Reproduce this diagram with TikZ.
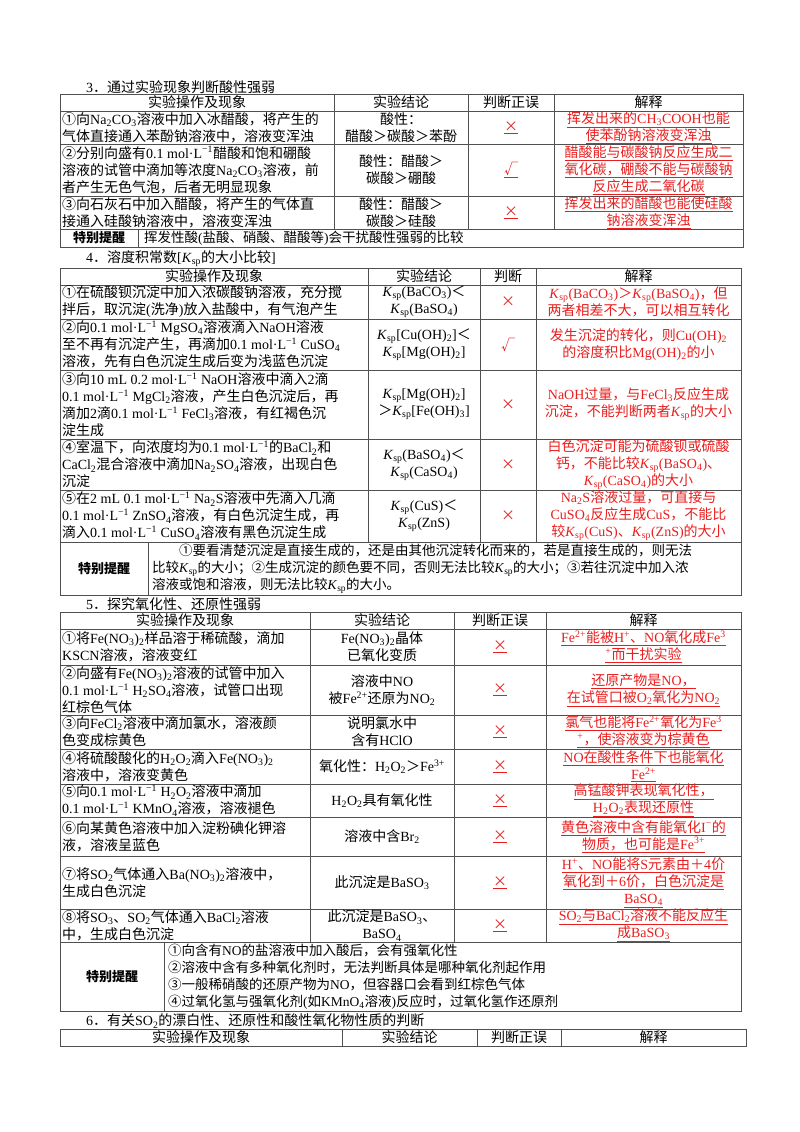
\documentclass[tikz,border=0pt]{standalone}
\usepackage{fontspec}
\setmainfont{Liberation Serif}
\newfontfamily\cjk{Noto Sans CJK SC}
\newcommand\latinfont{\rmfamily}
\newcount\mycnt
\newXeTeXintercharclass\mycjk
\mycnt="4E00 \loop \XeTeXcharclass\mycnt=\mycjk \ifnum\mycnt<"9FFF \advance\mycnt 1 \repeat
\mycnt="3000 \loop \XeTeXcharclass\mycnt=\mycjk \ifnum\mycnt<"303F \advance\mycnt 1 \repeat
\mycnt="FF00 \loop \XeTeXcharclass\mycnt=\mycjk \ifnum\mycnt<"FFEF \advance\mycnt 1 \repeat
\mycnt="2460 \loop \XeTeXcharclass\mycnt=\mycjk \ifnum\mycnt<"2473 \advance\mycnt 1 \repeat
\XeTeXcharclass"00D7=\mycjk
\XeTeXcharclass"221A=\mycjk
\XeTeXinterchartoks 0 \mycjk = {\cjk}
\XeTeXinterchartoks 4095 \mycjk = {\cjk}
\XeTeXinterchartoks \mycjk 0 = {\latinfont}
\XeTeXinterchartoks 4095 0 = {\latinfont}
\XeTeXinterchartokenstate=1
\definecolor{ered}{RGB}{232,30,30}
\definecolor{gridc}{RGB}{80,80,80}
\newcommand\dn[1]{\textsubscript{#1}}
\newcommand\up[1]{\textsuperscript{#1}}
\newcommand\Ksp{\textit{K}\dn{sp}}
\newcommand\mol{mol·L\up{−1}}
\newcommand\ul[1]{\underline{#1}}
\tikzset{
  lt/.style={anchor=west,align=left,inner sep=0pt,font=\fontsize{14}{17}\selectfont},
  ct/.style={align=center,inner sep=0pt,font=\fontsize{14}{17}\selectfont},
  rd/.style={ct,text=ered},
  hd/.style={ct},
  ttl/.style={anchor=west,inner sep=0pt,font=\fontsize{14}{17}\selectfont},
  tipl/.style={ct,font=\fontsize{13}{17}\selectfont\bfseries},
  tipt/.style={lt,font=\fontsize{13.5}{17}\selectfont},
  grid/.style={draw=gridc,line width=0.9pt}
}
\begin{document}
\begin{tikzpicture}[x=1pt,y=-1pt]
\useasboundingbox (0,0) rectangle (800,1132);
% ================= Section 3
\node[ttl] (t3) at (86,87) {3．通过实验现象判断酸性强弱};
\draw[grid] (60,94) rectangle (743,247);
\foreach \yy in {111,144,196,229} \draw[grid] (60,\yy) -- (743,\yy);
\foreach \xx in {334,468,554} \draw[grid] (\xx,94) -- (\xx,229);
\draw[grid] (138,229) -- (138,247);
\node[hd] (h3a) at (197,102.5) {实验操作及现象};
\node[hd] (h3b) at (401,102.5) {实验结论};
\node[hd] (h3c) at (511,102.5) {判断正误};
\node[hd] (h3d) at (648.5,102.5) {解释};
\node[lt] (a31) at (62,127.5) {①向Na\dn{2}CO\dn{3}溶液中加入冰醋酸，将产生的\\气体直接通入苯酚钠溶液中，溶液变浑浊};
\node[ct] (b31) at (401,127.5) {酸性：\\醋酸＞碳酸＞苯酚};
\node[rd] (c31) at (511,127.5) {\ul{×}};
\node[rd] (d31) at (648.5,127.5) {\ul{挥发出来的CH\dn{3}COOH也能}\\\ul{使苯酚钠溶液变浑浊}};
\node[lt] (a32) at (62,170) {②分别向盛有0.1 \mol 醋酸和饱和硼酸\\溶液的试管中滴加等浓度Na\dn{2}CO\dn{3}溶液，前\\者产生无色气泡，后者无明显现象};
\node[ct] (b32) at (401,170) {酸性：醋酸＞\\碳酸＞硼酸};
\node[rd] (c32) at (511,170) {\ul{√}};
\node[rd] (d32) at (648.5,170) {\ul{醋酸能与碳酸钠反应生成二}\\\ul{氧化碳，硼酸不能与碳酸钠}\\\ul{反应生成二氧化碳}};
\node[lt] (a33) at (62,212.5) {③向石灰石中加入醋酸，将产生的气体直\\接通入硅酸钠溶液中，溶液变浑浊};
\node[ct] (b33) at (401,212.5) {酸性：醋酸＞\\碳酸＞硅酸};
\node[rd] (c33) at (511,212.5) {\ul{×}};
\node[rd] (d33) at (648.5,212.5) {\ul{挥发出来的醋酸也能使硅酸}\\\ul{钠溶液变浑浊}};
\node[tipl] (p3) at (99,238) {特别提醒};
\node[tipt] (q3) at (144,238) {挥发性酸(盐酸、硝酸、醋酸等)会干扰酸性强弱的比较};
% ================= Section 4
\node[ttl] (t4) at (86,259) {4．溶度积常数[\Ksp 的大小比较]};
\draw[grid] (60,268) rectangle (741,595);
\foreach \yy in {285,319,370,439,490,542} \draw[grid] (60,\yy) -- (741,\yy);
\foreach \xx in {368,480,536} \draw[grid] (\xx,268) -- (\xx,542);
\draw[grid] (148,542) -- (148,595);
\node[hd] (h4a) at (214,276.5) {实验操作及现象};
\node[hd] (h4b) at (424,276.5) {实验结论};
\node[hd] (h4c) at (508,276.5) {判断};
\node[hd] (h4d) at (638.5,276.5) {解释};
\node[lt] (a41) at (62,302) {①在硫酸钡沉淀中加入浓碳酸钠溶液，充分搅\\拌后，取沉淀(洗净)放入盐酸中，有气泡产生};
\node[ct] (b41) at (424,302) {\Ksp(BaCO\dn{3})＜\\\Ksp(BaSO\dn{4})};
\node[rd] (c41) at (508,302) {×};
\node[rd] (d41) at (638.5,302) {\Ksp(BaCO\dn{3})＞\Ksp(BaSO\dn{4})，但\\两者相差不大，可以相互转化};
\node[lt] (a42) at (62,344.5) {②向0.1 \mol\ MgSO\dn{4}溶液滴入NaOH溶液\\至不再有沉淀产生，再滴加0.1 \mol\ CuSO\dn{4}\\溶液，先有白色沉淀生成后变为浅蓝色沉淀};
\node[ct] (b42) at (424,344.5) {\Ksp[Cu(OH)\dn{2}]＜\\\Ksp[Mg(OH)\dn{2}]};
\node[rd] (c42) at (508,344.5) {√};
\node[rd] (d42) at (638.5,344.5) {发生沉淀的转化，则Cu(OH)\dn{2}\\的溶度积比Mg(OH)\dn{2}的小};
\node[lt] (a43) at (62,404.5) {③向10 mL 0.2 \mol\ NaOH溶液中滴入2滴\\0.1 \mol\ MgCl\dn{2}溶液，产生白色沉淀后，再\\滴加2滴0.1 \mol\ FeCl\dn{3}溶液，有红褐色沉\\淀生成};
\node[ct] (b43) at (424,404.5) {\Ksp[Mg(OH)\dn{2}]\\＞\Ksp[Fe(OH)\dn{3}]};
\node[rd] (c43) at (508,404.5) {×};
\node[rd] (d43) at (638.5,404.5) {NaOH过量，与FeCl\dn{3}反应生成\\沉淀，不能判断两者\Ksp 的大小};
\node[lt] (a44) at (62,464.5) {④室温下，向浓度均为0.1 \mol 的BaCl\dn{2}和\\CaCl\dn{2}混合溶液中滴加Na\dn{2}SO\dn{4}溶液，出现白色\\沉淀};
\node[ct] (b44) at (424,464.5) {\Ksp(BaSO\dn{4})＜\\\Ksp(CaSO\dn{4})};
\node[rd] (c44) at (508,464.5) {×};
\node[rd] (d44) at (638.5,464.5) {白色沉淀可能为硫酸钡或硫酸\\钙，不能比较\Ksp(BaSO\dn{4})、\\\Ksp(CaSO\dn{4})的大小};
\node[lt] (a45) at (62,516) {⑤在2 mL 0.1 \mol\ Na\dn{2}S溶液中先滴入几滴\\0.1 \mol\ ZnSO\dn{4}溶液，有白色沉淀生成，再\\滴入0.1 \mol\ CuSO\dn{4}溶液有黑色沉淀生成};
\node[ct] (b45) at (424,516) {\Ksp(CuS)＜\\\Ksp(ZnS)};
\node[rd] (c45) at (508,516) {×};
\node[rd] (d45) at (638.5,516) {Na\dn{2}S溶液过量，可直接与\\CuSO\dn{4}反应生成CuS，不能比\\较\Ksp(CuS)、\Ksp(ZnS)的大小};
\node[tipl] (p4) at (104,568.5) {特别提醒};
\node[tipt] (q4) at (152,568.5) {\hspace{2em}①要看清楚沉淀是直接生成的，还是由其他沉淀转化而来的，若是直接生成的，则无法\\比较\Ksp 的大小；②生成沉淀的颜色要不同，否则无法比较\Ksp 的大小；③若往沉淀中加入浓\\溶液或饱和溶液，则无法比较\Ksp 的大小。};
% ================= Section 5
\node[ttl] (t5) at (86,604) {5．探究氧化性、还原性强弱};
\draw[grid] (60,612) rectangle (741,1011);
\foreach \yy in {629,665,715,749,784,817,856,909,942} \draw[grid] (60,\yy) -- (741,\yy);
\foreach \xx in {310,454,546} \draw[grid] (\xx,612) -- (\xx,942);
\draw[grid] (164,942) -- (164,1011);
\node[hd] (h5a) at (185,620.5) {实验操作及现象};
\node[hd] (h5b) at (382,620.5) {实验结论};
\node[hd] (h5c) at (500,620.5) {判断正误};
\node[hd] (h5d) at (643.5,620.5) {解释};
\node[lt] (a51) at (62,647) {①将Fe(NO\dn{3})\dn{2}样品溶于稀硫酸，滴加\\KSCN溶液，溶液变红};
\node[ct] (b51) at (382,647) {Fe(NO\dn{3})\dn{2}晶体\\已氧化变质};
\node[rd] (c51) at (500,647) {\ul{×}};
\node[rd] (d51) at (643.5,647) {\ul{Fe\up{2+}能被H\up{+}、NO氧化成Fe\up{3}}\\\ul{\up{+}而干扰实验}};
\node[lt] (a52) at (62,690) {②向盛有Fe(NO\dn{3})\dn{2}溶液的试管中加入\\0.1 \mol\ H\dn{2}SO\dn{4}溶液，试管口出现\\红棕色气体};
\node[ct] (b52) at (382,690) {溶液中NO\\被Fe\up{2+}还原为NO\dn{2}};
\node[rd] (c52) at (500,690) {\ul{×}};
\node[rd] (d52) at (643.5,690) {\ul{还原产物是NO，}\\\ul{在试管口被O\dn{2}氧化为NO\dn{2}}};
\node[lt] (a53) at (62,732) {③向FeCl\dn{2}溶液中滴加氯水，溶液颜\\色变成棕黄色};
\node[ct] (b53) at (382,732) {说明氯水中\\含有HClO};
\node[rd] (c53) at (500,732) {\ul{×}};
\node[rd] (d53) at (643.5,732) {\ul{氯气也能将Fe\up{2+}氧化为Fe\up{3}}\\\ul{\up{+}，使溶液变为棕黄色}};
\node[lt] (a54) at (62,766.5) {④将硫酸酸化的H\dn{2}O\dn{2}滴入Fe(NO\dn{3})\dn{2}\\溶液中，溶液变黄色};
\node[ct] (b54) at (382,766.5) {氧化性：H\dn{2}O\dn{2}＞Fe\up{3+}};
\node[rd] (c54) at (500,766.5) {\ul{×}};
\node[rd] (d54) at (643.5,766.5) {\ul{NO在酸性条件下也能氧化}\\\ul{Fe\up{2+}}};
\node[lt] (a55) at (62,800.5) {⑤向0.1 \mol\ H\dn{2}O\dn{2}溶液中滴加\\0.1 \mol\ KMnO\dn{4}溶液，溶液褪色};
\node[ct] (b55) at (382,800.5) {H\dn{2}O\dn{2}具有氧化性};
\node[rd] (c55) at (500,800.5) {\ul{×}};
\node[rd] (d55) at (643.5,800.5) {\ul{高锰酸钾表现氧化性，}\\\ul{H\dn{2}O\dn{2}表现还原性}};
\node[lt] (a56) at (62,836.5) {⑥向某黄色溶液中加入淀粉碘化钾溶\\液，溶液呈蓝色};
\node[ct] (b56) at (382,836.5) {溶液中含Br\dn{2}};
\node[rd] (c56) at (500,836.5) {\ul{×}};
\node[rd] (d56) at (643.5,836.5) {\ul{黄色溶液中含有能氧化I\up{−}的}\\\ul{物质，也可能是Fe\up{3+}}};
\node[lt] (a57) at (62,882.5) {⑦将SO\dn{2}气体通入Ba(NO\dn{3})\dn{2}溶液中，\\生成白色沉淀};
\node[ct] (b57) at (382,882.5) {此沉淀是BaSO\dn{3}};
\node[rd] (c57) at (500,882.5) {\ul{×}};
\node[rd] (d57) at (643.5,882.5) {\ul{H\up{+}、NO能将S元素由＋4价}\\\ul{氧化到＋6价，白色沉淀是}\\\ul{BaSO\dn{4}}};
\node[lt] (a58) at (62,925.5) {⑧将SO\dn{3}、SO\dn{2}气体通入BaCl\dn{2}溶液\\中，生成白色沉淀};
\node[ct] (b58) at (382,925.5) {此沉淀是BaSO\dn{3}、\\BaSO\dn{4}};
\node[rd] (c58) at (500,925.5) {\ul{×}};
\node[rd] (d58) at (643.5,925.5) {\ul{SO\dn{2}与BaCl\dn{2}溶液不能反应生}\\\ul{成BaSO\dn{3}}};
\node[tipl] (p5) at (112,976.5) {特别提醒};
\node[tipt] (q5) at (168,976.5) {①向含有NO的盐溶液中加入酸后，会有强氧化性\\②溶液中含有多种氧化剂时，无法判断具体是哪种氧化剂起作用\\③一般稀硝酸的还原产物为NO，但容器口会看到红棕色气体\\④过氧化氢与强氧化剂(如KMnO\dn{4}溶液)反应时，过氧化氢作还原剂};
% ================= Section 6
\node[ttl] (t6) at (86,1021) {6．有关SO\dn{2}的漂白性、还原性和酸性氧化物性质的判断};
\draw[grid] (60,1029) rectangle (746,1046);
\foreach \xx in {342,477,561} \draw[grid] (\xx,1029) -- (\xx,1046);
\node[hd] (h6a) at (201,1037.5) {实验操作及现象};
\node[hd] (h6b) at (409.5,1037.5) {实验结论};
\node[hd] (h6c) at (519,1037.5) {判断正误};
\node[hd] (h6d) at (653.5,1037.5) {解释};
\end{tikzpicture}
\end{document}
